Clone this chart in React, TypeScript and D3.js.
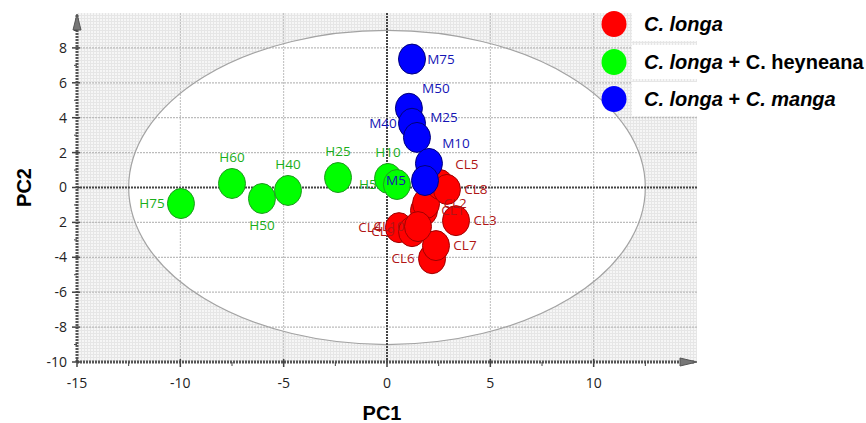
import React from 'react';
import * as d3 from 'd3';

// PCA scores
const clNames = ['CL1', 'CL2', 'CL3', 'CL4', 'CL5', 'CL6', 'CL7', 'CL8', 'CL9', 'CL10'];
const clPC1 = [1.79, 1.89, 3.34, 0.58, 2.56, 2.18, 2.37, 2.9, 1.21, 1.5];
const clPC2 = [-1.32, -0.92, -1.9, -2.3, 0.17, -4.08, -3.33, -0.11, -2.53, -2.24];
const clLabelPos = ['r', 'r', 'r', 'l', 'tr', 'l', 'r', 'r', 'l', 'l'];

const hNames = ['H75', 'H60', 'H50', 'H40', 'H25', 'H10', 'H5'];
const hPC1 = [-9.97, -7.5, -6.05, -4.79, -2.37, 0.05, 0.48];
const hPC2 = [-0.92, 0.23, -0.63, -0.17, 0.57, 0.52, 0.17];
const hLabelPos = ['l', 't', 'b', 't', 't', 't', 'l'];

const mNames = ['M75', 'M50', 'M40', 'M25', 'M10', 'M5'];
const mPC1 = [1.21, 1.06, 1.21, 1.45, 2.03, 1.84];
const mPC2 = [7.36, 4.54, 3.68, 2.87, 1.38, 0.4];
const mLabelPos = ['r', 'tr', 'l', 'tr', 'tr', 'l'];

const xTicks = [-15, -10, -5, 0, 5, 10];
const yTicks = [8, 6, 4, 2, 0, -2, -4, -6, -8, -10];
const yTickLabels = ['8', '6', '4', '2', '0', '2', '-4', '-6', '-8', '-10'];

// Hotelling ellipse radii (data units)
const ellipseRx = 12.5;
const ellipseRy = 9;

const W = 866;
const H = 423;

const offsets: Record<string, [number, number]> = {
  l: [-29, 0],
  r: [29, 0],
  t: [0, -26],
  b: [0, 27],
  tr: [27, -20],
};

const groups = [
  { names: hNames, xs: hPC1, ys: hPC2, pos: hLabelPos, fill: '#00ff00', stroke: '#1f9a1f', text: '#1aae1a' },
  { names: clNames, xs: clPC1, ys: clPC2, pos: clLabelPos, fill: '#ff0000', stroke: '#a00000', text: '#b01515' },
  { names: mNames, xs: mPC1, ys: mPC2, pos: mLabelPos, fill: '#0000ff', stroke: '#00007a', text: '#1515b5' },
];

const App = () => {
  const x = d3.scaleLinear().domain([-15, 15]).range([77, 697]);
  const y = d3.scaleLinear().domain([-10, 10]).range([362, 13]);

  const minorX = d3.range(-12.5, 15, 2.5).filter((v) => v % 5 !== 0);
  const minorY = d3.range(-9, 10, 2);

  return (
    <svg width={W} height={H} style={{ position: 'absolute', left: 0, top: 0 }}>
      <defs>
        <pattern id="mesh" width={3} height={3} patternUnits="userSpaceOnUse">
          <rect width={3} height={3} fill="#f6f6f6" />
          <path d="M0,0.5H3M0.5,0V3" stroke="#e6e6e6" strokeWidth={1} />
        </pattern>
      </defs>
      <rect x={0} y={0} width={W} height={H} fill="#fff" />

      {/* plot background with mesh outside the ellipse */}
      <rect x={x(-15)} y={y(10)} width={x(15) - x(-15)} height={y(-10) - y(10)} fill="url(#mesh)" />
      <ellipse
        cx={x(0)}
        cy={y(0)}
        rx={x(ellipseRx) - x(0)}
        ry={y(0) - y(ellipseRy)}
        fill="#fff"
      />

      {/* grid */}
      {xTicks.filter((v) => v !== 0 && v !== -15).map((v) => (
        <line key={'gx' + v} x1={x(v)} x2={x(v)} y1={y(10)} y2={y(-10)} stroke="#bcbcbc" strokeWidth={1} strokeDasharray="2 1" />
      ))}
      {yTicks.filter((v) => v !== 0 && v !== -10).map((v) => (
        <line key={'gy' + v} x1={x(-15)} x2={x(15)} y1={y(v)} y2={y(v)} stroke="#bcbcbc" strokeWidth={1.3} strokeDasharray="2 1" />
      ))}

      <ellipse
        cx={x(0)}
        cy={y(0)}
        rx={x(ellipseRx) - x(0)}
        ry={y(0) - y(ellipseRy)}
        fill="none"
        stroke="#a3a3a3"
        strokeWidth={1.2}
      />

      {/* zero lines */}
      <line x1={x(0)} x2={x(0)} y1={y(10)} y2={y(-10)} stroke="#444" strokeWidth={2} strokeDasharray="2 1" />
      <line x1={x(-15)} x2={x(15)} y1={y(0)} y2={y(0)} stroke="#444" strokeWidth={2} strokeDasharray="2 1" />

      {/* axes */}
      <line x1={x(-15)} x2={x(-15)} y1={y(10) + 2} y2={y(-10)} stroke="#555" strokeWidth={3} strokeDasharray="2 1" />
      <line x1={x(-15)} x2={x(15) - 2} y1={y(-10)} y2={y(-10)} stroke="#555" strokeWidth={3} strokeDasharray="2 1" />
      <path d={`M${x(-15)},${y(10) + 1}L${x(-15) - 4},${y(10) + 17}L${x(-15) + 4},${y(10) + 17}Z`} fill="#777" stroke="#555" />
      <path d={`M${x(15)},${y(-10)}L${x(15) - 17},${y(-10) - 4}L${x(15) - 17},${y(-10) + 4}Z`} fill="#777" stroke="#555" />

      {yTicks.map((v, i) => (
        <g key={'yt' + v}>
          <line x1={x(-15) - 5} x2={x(-15) + 3} y1={y(v)} y2={y(v)} stroke="#444" strokeWidth={1.5} />
          <text x={x(-15) - 10} y={y(v)} dy="0.35em" textAnchor="end" fontFamily="'Open Sans', sans-serif" fontSize={14} fill="#222">
            {yTickLabels[i]}
          </text>
        </g>
      ))}
      {minorY.map((v) => (
        <line key={'my' + v} x1={x(-15) - 3} x2={x(-15)} y1={y(v)} y2={y(v)} stroke="#444" strokeWidth={1} />
      ))}
      {xTicks.map((v) => (
        <g key={'xt' + v}>
          <line x1={x(v)} x2={x(v)} y1={y(-10) - 3} y2={y(-10) + 5} stroke="#444" strokeWidth={1.5} />
          <text x={x(v)} y={y(-10) + 21} dy="0.35em" textAnchor="middle" fontFamily="'Open Sans', sans-serif" fontSize={14} fill="#222">
            {v}
          </text>
        </g>
      ))}
      {minorX.map((v) => (
        <line key={'mx' + v} x1={x(v)} x2={x(v)} y1={y(-10)} y2={y(-10) + 4} stroke="#444" strokeWidth={1} />
      ))}

      {/* points */}
      {groups.map((g, gi) =>
        g.names.map((n, i) => (
          <ellipse key={'p' + gi + n} cx={x(g.xs[i])} cy={y(g.ys[i])} rx={13.5} ry={15} fill={g.fill} stroke={g.stroke} strokeWidth={1} />
        ))
      )}
      {groups.map((g, gi) =>
        g.names.map((n, i) => {
          const [dx, dy] = offsets[g.pos[i]];
          return (
            <text
              key={'l' + gi + n}
              x={x(g.xs[i]) + dx}
              y={y(g.ys[i]) + dy}
              dy="0.35em"
              textAnchor="middle"
              fontFamily="'Open Sans', sans-serif"
              fontSize={13.5}
              fill={g.text}
            >
              {n}
            </text>
          );
        })
      )}

      {/* legend */}
      {[0, 1, 2].map((i) => (
        <rect key={'lb' + i} x={632} y={[7, 45, 82][i]} width={234} height={34} fill="#fff" />
      ))}
      {[{ c: '#ff0000', cy: 24 }, { c: '#00ff00', cy: 62 }, { c: '#0000ff', cy: 99 }].map((d, i) => (
        <ellipse key={'lc' + i} cx={614} cy={d.cy} rx={12.5} ry={13} fill={d.c} />
      ))}
      <g fontFamily="'Liberation Sans', Arial, sans-serif" fontWeight="bold" fontSize={20} fill="#000">
        <text x={644} y={31}>
          <tspan fontStyle="italic">C. longa</tspan>
        </text>
        <text x={644} y={69}>
          <tspan fontStyle="italic">C. longa</tspan>
          <tspan> + C. heyneana</tspan>
        </text>
        <text x={644} y={106}>
          <tspan fontStyle="italic">C. longa</tspan>
          <tspan> + </tspan>
          <tspan fontStyle="italic">C. manga</tspan>
        </text>
      </g>

      {/* axis titles */}
      <text x={382} y={413} dy="0.35em" textAnchor="middle" fontFamily="'Liberation Sans', Arial, sans-serif" fontWeight="bold" fontSize={20}>
        PC1
      </text>
      <text
        transform={`translate(24,${y(0)}) rotate(-90)`}
        dy="0.35em"
        textAnchor="middle"
        fontFamily="'Liberation Sans', Arial, sans-serif"
        fontWeight="bold"
        fontSize={20}
      >
        PC2
      </text>
    </svg>
  );
};

export default App;
